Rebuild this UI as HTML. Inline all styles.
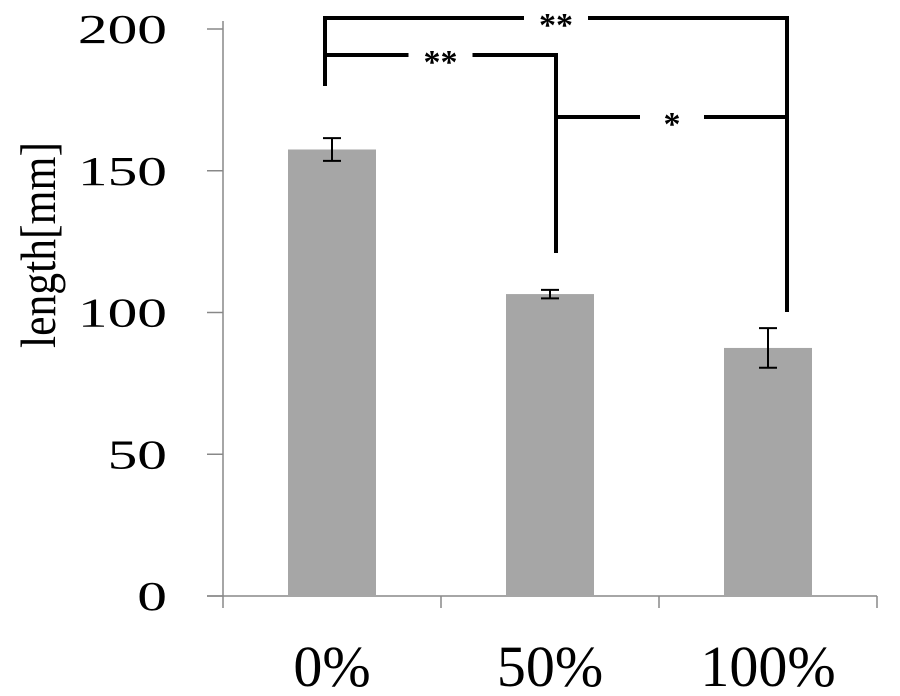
<!DOCTYPE html>
<html><head><style>
html,body{margin:0;padding:0;background:#fff;}
svg text{font-family:"Liberation Serif",serif;}
</style></head><body>
<svg id="chart" width="900" height="691">
<g id="axes"></g><g id="bars"></g><g id="sig"></g>
<text transform="translate(55,245) rotate(-90)" text-anchor="middle" font-size="50" textLength="206" lengthAdjust="spacingAndGlyphs" fill="#000">length[mm]</text>
</svg>
<script>
const categories=["0%","50%","100%"];
const values=[157.5,106.5,87.5];
const errors=[4,1.5,7];
const yTicks=[0,50,100,150,200];
const brackets=[{a:0,b:2,y:18,label:"**",lowA:86,lowB:312},{a:0,b:1,y:55,label:"**",lowA:null,lowB:253},{a:1,b:2,y:117,label:"*",lowA:null,lowB:null}];
const NS="http://www.w3.org/2000/svg";
const y0=596,yTop=29,ymax=200,xL=223,xR=877;
const yS=v=>y0-(y0-yTop)*v/ymax;
const bw=(xR-xL)/categories.length;
const xC=i=>xL+bw*(i+0.5);
function mk(p,t,a){const e=document.createElementNS(NS,t);for(const k in a)e.setAttribute(k,a[k]);p.appendChild(e);return e;}
const ax=document.getElementById('axes'),bars=document.getElementById('bars'),sig=document.getElementById('sig');
let l=mk(ax,'line',{x1:xL,y1:yTop-8,x2:xL,y2:y0,stroke:'#888','stroke-width':1.5});


l=mk(ax,'line',{x1:207,y1:y0,x2:xR,y2:y0,stroke:'#888','stroke-width':1.5});


yTicks.forEach(t=>{
 mk(ax,'line',{x1:207,y1:yS(t),x2:xL,y2:yS(t),stroke:'#888','stroke-width':1.5});
 const s=String(t);
 const tx=mk(ax,'text',{x:167,y:yS(t)+14,'text-anchor':'end','font-size':41,fill:'#000',textLength:s.length*29.7,lengthAdjust:'spacingAndGlyphs'});
 tx.textContent=s;
 
 
});
for(let i=0;i<=categories.length;i++){mk(ax,'line',{x1:xL+bw*i,y1:y0,x2:xL+bw*i,y2:y0+12,stroke:'#888','stroke-width':1.5});}
categories.forEach((c,i)=>{
 const tx=mk(ax,'text',{x:xC(i),y:686,'text-anchor':'middle','font-size':58,fill:'#000'});
 tx.textContent=c;
 
 
 const r=mk(bars,'rect',{x:xC(i)-44,y:yS(values[i]),width:88,height:y0-yS(values[i]),fill:'#a6a6a6'});
 
 
 const g=mk(bars,'g',{stroke:'#000','stroke-width':2});
 
 
 const hi=yS(values[i]+errors[i]),lo=yS(values[i]-errors[i]);
 mk(g,'line',{x1:xC(i),y1:hi,x2:xC(i),y2:lo});
 mk(g,'line',{x1:xC(i)-9,y1:hi,x2:xC(i)+9,y2:hi});
 mk(g,'line',{x1:xC(i)-9,y1:lo,x2:xC(i)+9,y2:lo});
});
brackets.forEach(b=>{
 const g=mk(sig,'g',{stroke:'#000','stroke-width':4,fill:'none'});
 
 
 const xA=b.a===1?557:325, xB=b.b===1?556:787;
 const mid=(xA+xB)/2,gap=32;
 mk(g,'line',{x1:xA,y1:b.y,x2:mid-gap,y2:b.y});
 mk(g,'line',{x1:mid+gap,y1:b.y,x2:xB,y2:b.y});
 if(b.lowA)mk(g,'line',{x1:xA,y1:b.y-2,x2:xA,y2:b.lowA});
 if(b.lowB)mk(g,'line',{x1:xB,y1:b.y-2,x2:xB,y2:b.lowB});
 const t=mk(sig,'text',{x:mid,y:b.y+18,'text-anchor':'middle','font-size':34,'font-weight':'bold','font-family':'Liberation Sans, sans-serif',fill:'#000'});
 t.textContent=b.label;
 
 
});
</script>
</body></html>
